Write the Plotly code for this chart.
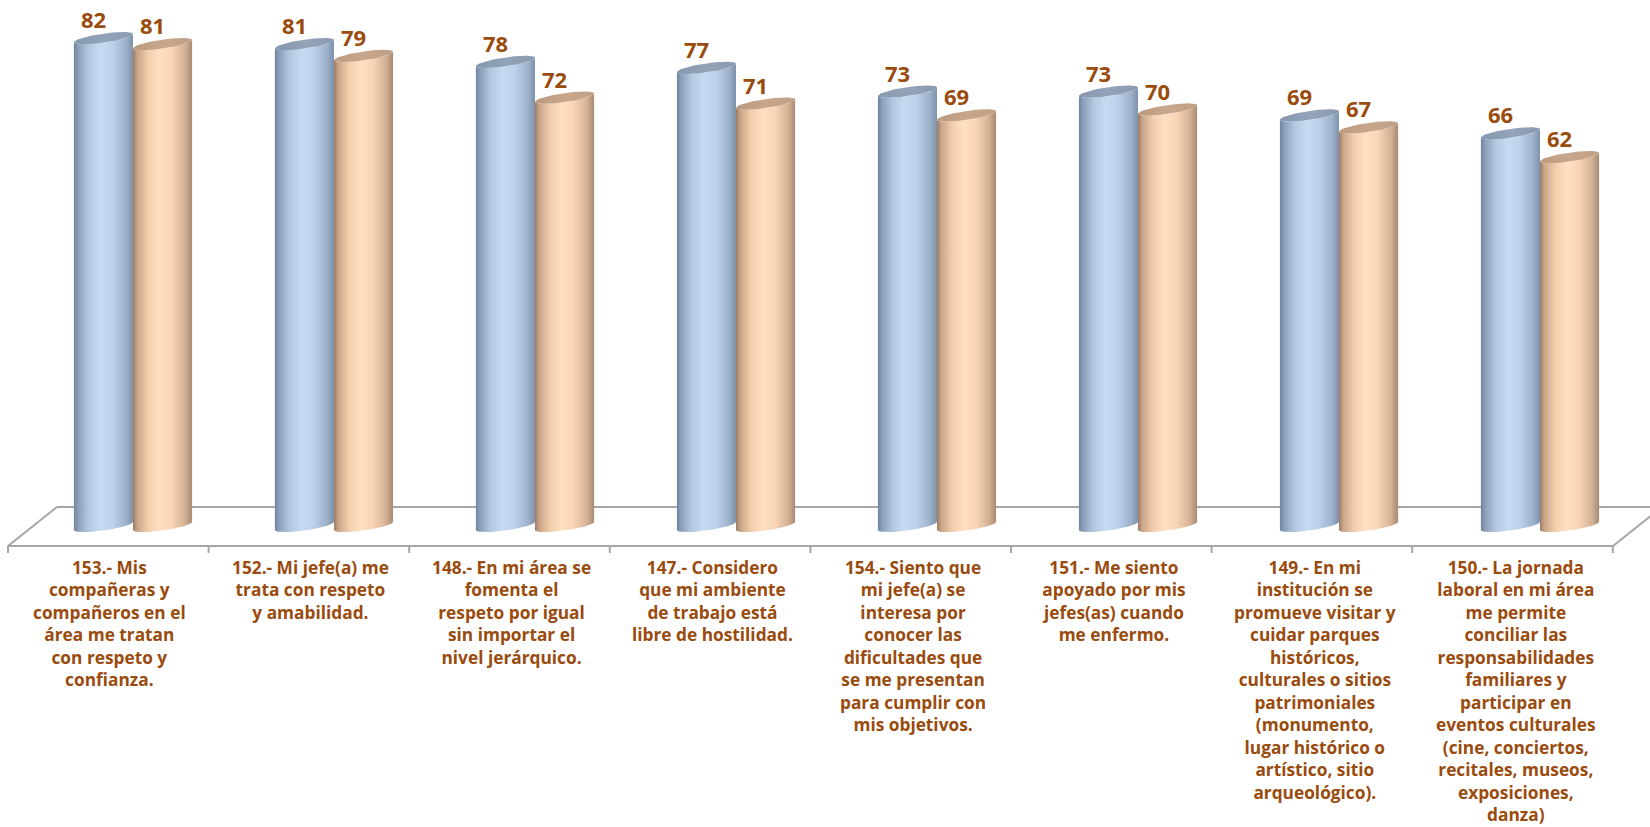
import numpy as np
import plotly.graph_objects as go

categories = [
    "153.- Mis<br>compañeras y<br>compañeros en el<br>área me tratan<br>con respeto y<br>confianza.",
    "152.- Mi jefe(a) me<br>trata con respeto<br>y amabilidad.",
    "148.- En mi área se<br>fomenta el<br>respeto por igual<br>sin importar el<br>nivel jerárquico.",
    "147.- Considero<br>que mi ambiente<br>de trabajo está<br>libre de hostilidad.",
    "154.- Siento que<br>mi jefe(a) se<br>interesa por<br>conocer las<br>dificultades que<br>se me presentan<br>para cumplir con<br>mis objetivos.",
    "151.- Me siento<br>apoyado por mis<br>jefes(as) cuando<br>me enfermo.",
    "149.- En mi<br>institución se<br>promueve visitar y<br>cuidar parques<br>históricos,<br>culturales o sitios<br>patrimoniales<br>(monumento,<br>lugar histórico o<br>artístico, sitio<br>arqueológico).",
    "150.- La jornada<br>laboral en mi área<br>me permite<br>conciliar las<br>responsabilidades<br>familiares y<br>participar en<br>eventos culturales<br>(cine, conciertos,<br>recitales, museos,<br>exposiciones,<br>danza)",
]
serie_azul = [82, 81, 78, 77, 73, 73, 69, 66]
serie_naranja = [81, 79, 72, 71, 69, 70, 67, 62]

W, H = 1650, 827
PX_X = 201.0          # px per category
PX_Y = 5.95           # px per value unit
X0 = -133.0 / PX_X
X1 = X0 + W / PX_X
Y1 = 526.0 / PX_Y
Y0 = Y1 - H / PX_Y

A = 0.147             # cylinder half width (x units)
B = 4.5 / PX_Y        # ellipse semi minor (y units)
HS = 4.2 / PX_Y       # tilt of ellipse (y units)
OFF = 0.147
LABEL_COLOR = "#9A4B0E"
FONT = "Open Sans"

blue_body = [[0, "#6F849F"], [0.07, "#8C9FBA"], [0.25, "#B3C7E1"], [0.45, "#C6DAF2"],
             [0.65, "#BDD1EA"], [0.88, "#9DB1CA"], [1, "#7E91AB"]]
blue_cap = [[0, "#8597AE"], [0.5, "#93A4B9"], [1, "#8A9BB1"]]
orange_body = [[0, "#9A7B63"], [0.07, "#C9A486"], [0.25, "#F2CDAC"], [0.45, "#FEDFC1"],
               [0.65, "#F8D6B6"], [0.88, "#D4B194"], [1, "#A68A73"]]
orange_cap = [[0, "#BC9A80"], [0.5, "#C8A68B"], [1, "#BFA086"]]

th_lo = np.linspace(np.pi, 2 * np.pi, 41)
th_full = np.linspace(0, 2 * np.pi, 81)


def body_path(cx, v):
    xs = [cx - A, cx - A]
    ys = [-HS, v - HS]
    xs += list(cx + A * np.cos(th_lo))
    ys += list(v + B * np.sin(th_lo) + HS * np.cos(th_lo))
    xs += list(cx + A * np.cos(th_lo[::-1]))
    ys += list(0 + B * np.sin(th_lo[::-1]) + HS * np.cos(th_lo[::-1]))
    xs.append(xs[0]); ys.append(ys[0])
    return xs, ys


def cap_path(cx, v):
    xs = list(cx + A * np.cos(th_full))
    ys = list(v + B * np.sin(th_full) + HS * np.cos(th_full))
    return xs, ys


fig = go.Figure()
for serie, off, bcs, ccs in [(serie_azul, -OFF, blue_body, blue_cap),
                             (serie_naranja, OFF, orange_body, orange_cap)]:
    for k, v in enumerate(serie):
        cx = k + off
        xs, ys = body_path(cx, v)
        fig.add_trace(go.Scatter(x=xs, y=ys, mode="lines", fill="toself",
                                 line=dict(width=0, color="rgba(0,0,0,0)"),
                                 fillgradient=dict(type="horizontal", colorscale=bcs),
                                 hoverinfo="skip", showlegend=False))
        xs, ys = cap_path(cx, v)
        fig.add_trace(go.Scatter(x=xs, y=ys, mode="lines", fill="toself",
                                 line=dict(width=0, color="rgba(0,0,0,0)"),
                                 fillgradient=dict(type="horizontal", colorscale=ccs),
                                 hoverinfo="skip", showlegend=False))
        fig.add_annotation(x=cx, y=v, xref="x", yref="y", text=f"<b>{v}</b>",
                           showarrow=False, yshift=19, xshift=-10,
                           font=dict(family=FONT, size=22, color=LABEL_COLOR))

# floor (decoration in pixel/paper space)
def px(x):
    return x / W


def py(y):
    return 1 - y / H


grey = "#A6A6A6"
floor_lines = [((57, 507), (1665, 507)), ((8, 546), (57, 507)), ((8, 546), (1613, 546)),
               ((1613, 546), (1662, 507))]
for (xa, ya), (xb, yb) in floor_lines:
    fig.add_shape(type="line", xref="paper", yref="paper", x0=px(xa), y0=py(ya),
                  x1=px(xb), y1=py(yb), line=dict(color=grey, width=2), layer="below")
for k in range(9):
    xt = 8 + 200.6 * k
    fig.add_shape(type="line", xref="paper", yref="paper", x0=px(xt), y0=py(546),
                  x1=px(xt), y1=py(553), line=dict(color=grey, width=2), layer="below")

for k, c in enumerate(categories):
    fig.add_annotation(x=k - 24.0 / PX_X, y=py(554), xref="x", yref="paper",
                       text=f"<b>{c}</b>", showarrow=False, yanchor="top", xanchor="center",
                       align="center", font=dict(family=FONT, size=17.3, color=LABEL_COLOR))

fig.update_layout(
    width=W, height=H, margin=dict(l=0, r=0, t=0, b=0),
    paper_bgcolor="white", plot_bgcolor="white",
    xaxis=dict(range=[X0, X1], visible=False, fixedrange=True),
    yaxis=dict(range=[Y0, Y1], visible=False, fixedrange=True),
    showlegend=False,
)
fig.write_html("out.html", config={"displayModeBar": False},
               post_script="document.body.style.margin='0';document.body.style.overflow='hidden';")
